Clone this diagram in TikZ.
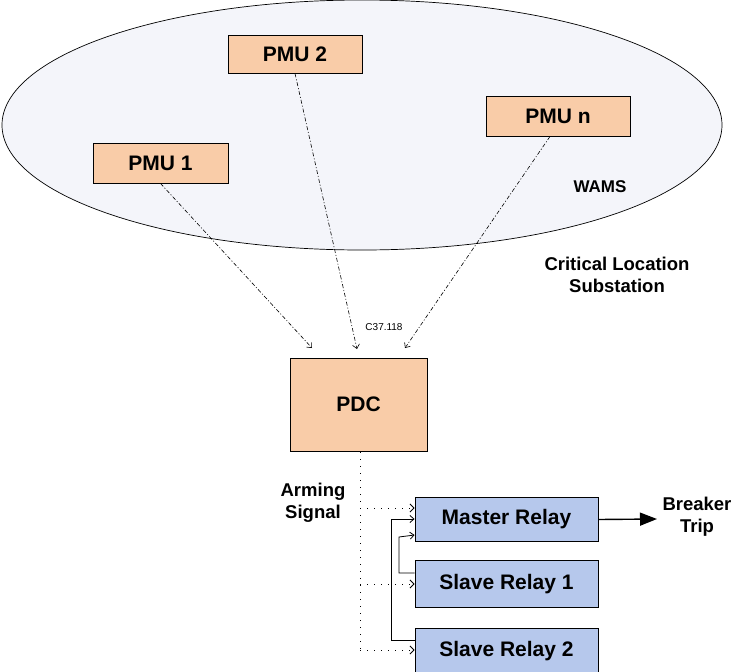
\documentclass[tikz,border=0pt]{standalone}
\usepackage{fontspec}
\setmainfont{Liberation Sans}
\usetikzlibrary{arrows.meta,shapes.geometric}
\definecolor{pmufill}{RGB}{249,204,168}
\definecolor{relayfill}{RGB}{182,200,236}
\definecolor{wamsfill}{RGB}{244,245,250}
\tikzset{
  pmubox/.style={draw=black, fill=pmufill, line width=0.9pt, minimum width=#1, inner sep=0pt, font=\fontsize{21}{24}\selectfont\bfseries},
  relaybox/.style={draw=black, fill=relayfill, line width=0.9pt, minimum width=183pt, inner sep=0pt, font=\fontsize{21}{24}\selectfont\bfseries},
  dashdotarrow/.style={line width=0.6pt, dash pattern=on 4pt off 2pt on 1pt off 2pt, -{Straight Barb[length=4pt,width=7pt]}},
  dotarrow/.style={line width=1pt, dash pattern=on 1pt off 6pt, -{Straight Barb[length=4pt,width=8pt,line width=0.8pt]}},
  solidarrow/.style={line width=0.8pt, -{Straight Barb[length=4pt,width=7pt]}},
  lbl/.style={align=center, inner sep=0pt, font=\bfseries}
}
\begin{document}
\begin{tikzpicture}[x=1pt,y=-1pt]
\useasboundingbox (0,0) rectangle (734,672);
% ellipse
\node[draw=black, fill=wamsfill, line width=0.7pt, ellipse, minimum width=720pt, minimum height=250pt, inner sep=0pt] (wams) at (362,125) {};
\node[pmubox=135pt, minimum height=40pt] (pmu1) at (160.5,163) {PMU 1};
\node[pmubox=134pt, minimum height=38pt] (pmu2) at (295,54) {PMU 2};
\node[pmubox=144pt, minimum height=40pt] (pmun) at (558,116) {PMU n};
\node[lbl, font=\fontsize{17}{20}\selectfont\bfseries] (wamslbl) at (600,187) {WAMS};
\node[lbl, font=\fontsize{18.5}{22}\selectfont\bfseries] (crit) at (617,275) {Critical Location\\Substation};
% PDC
\node[draw=black, fill=pmufill, line width=0.9pt, minimum width=137pt, minimum height=93pt, inner sep=0pt, font=\fontsize{21}{24}\selectfont\bfseries] (pdc) at (358.5,404.5) {PDC};
\node[inner sep=0pt, font=\fontsize{10}{12}\selectfont] (c37) at (384,327) {C37.118};
\coordinate (t1) at (312,348);
\coordinate (t2) at (357,349);
\coordinate (t3) at (405,348);
\draw[dashdotarrow] (pmu1.south) -- (t1);
\draw[dashdotarrow] (pmu2.south) -- (t2);
\draw[dashdotarrow] (pmun.south) ++(-8,0) -- (t3);
% relays
\node[relaybox, minimum height=44pt] (master) at (506.5,519.5) {Master Relay};
\node[relaybox, minimum height=47pt] (slave1) at (506.5,584) {Slave Relay 1};
\node[relaybox, minimum height=46pt] (slave2) at (506.5,651) {Slave Relay 2};
\node[lbl, font=\fontsize{18.5}{22}\selectfont\bfseries] (arming) at (313,503) {Arming\\Signal};
% dotted
\coordinate (d0) at (360,452);
\coordinate (d1) at (360,508);
\coordinate (d2) at (360,584);
\coordinate (d3) at (360,650);
\draw[line width=1pt, dash pattern=on 1pt off 6pt] (d0) -- (d3);
\draw[dotarrow] (d1) -- (master.west |- d1);
\draw[dotarrow] (d2) -- (slave1.west |- d2);
\draw[dotarrow] (d3) -- (slave2.west |- d3);
% solid feedback
\draw[solidarrow] (slave1.west |- 0,573) -- (399,573) -- (399,537) -- (master.west |- 0,535);
\draw[solidarrow] (slave2.west |- 0,640) -- (391,640) -- (391,519) -- (master.west |- 0,519);
% breaker trip
\coordinate (bt) at (657,519);
\draw[line width=1.4pt, -{Triangle[length=17pt,width=13pt]}] (master.east) -- (bt);
\node[lbl, font=\fontsize{18.5}{22}\selectfont\bfseries] (breaker) at (697,517) {Breaker\\Trip};
\end{tikzpicture}
\end{document}
